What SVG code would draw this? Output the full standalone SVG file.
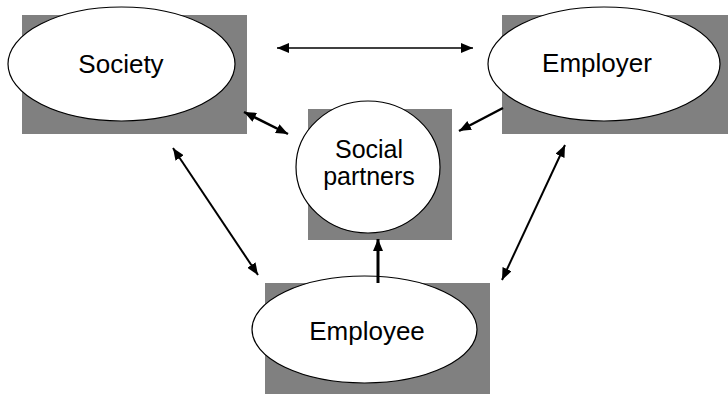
<svg xmlns="http://www.w3.org/2000/svg" width="728" height="394" viewBox="0 0 728 394">
<style>
.sh{fill:#808080;stroke:none}
.nd{fill:#fff;stroke:#000;stroke-width:1.2}
.lb{font-family:"Liberation Sans",Arial,sans-serif;font-size:26px;fill:#000;text-anchor:middle}
.sp{font-size:25px}
.c{stroke:#000;fill:none}
</style>
<defs>
<marker id="ah" viewBox="0 0 12 10" refX="12" refY="5" markerWidth="12" markerHeight="10" markerUnits="userSpaceOnUse" orient="auto-start-reverse">
<path d="M0,0 L12,5 L0,10 Z" fill="#000"/>
</marker>
</defs>
<rect width="728" height="394" fill="#fff"/>
<g id="society">
<rect class="sh" x="22" y="15" width="225" height="119"/>
<ellipse class="nd" cx="121.5" cy="64" rx="113.5" ry="57"/>
<text class="lb" x="121" y="73">Society</text>
</g>
<g id="employer">
<rect class="sh" x="502" y="15" width="226" height="119"/>
<ellipse class="nd" cx="604" cy="64" rx="116" ry="57"/>
<text class="lb" x="597" y="72">Employer</text>
</g>
<g id="social-partners">
<rect class="sh" x="308" y="109" width="144" height="131"/>
<ellipse class="nd" cx="368" cy="167" rx="72" ry="66"/>
<text class="lb sp" x="369" y="158">Social</text>
<text class="lb sp" x="369" y="185">partners</text>
</g>
<g id="employee">
<rect class="sh" x="265" y="283" width="225" height="111"/>
<ellipse class="nd" cx="364.5" cy="329.5" rx="112.5" ry="53.5"/>
<text class="lb" x="367" y="340">Employee</text>
</g>
<g id="connectors">
<line class="c" stroke-width="1.5" x1="277" y1="48" x2="473" y2="48" marker-start="url(#ah)" marker-end="url(#ah)"/>
<line class="c" stroke-width="2.5" x1="244" y1="112" x2="288" y2="134" marker-start="url(#ah)" marker-end="url(#ah)"/>
<line class="c" stroke-width="2.5" x1="503" y1="108" x2="459" y2="131" marker-end="url(#ah)"/>
<line class="c" stroke-width="2" x1="173" y1="148" x2="258" y2="275" marker-start="url(#ah)" marker-end="url(#ah)"/>
<line class="c" stroke-width="2" x1="565" y1="145" x2="502" y2="280" marker-start="url(#ah)" marker-end="url(#ah)"/>
<line class="c" stroke-width="3" x1="378" y1="283" x2="378" y2="239" marker-end="url(#ah)"/>
</g>
</svg>
